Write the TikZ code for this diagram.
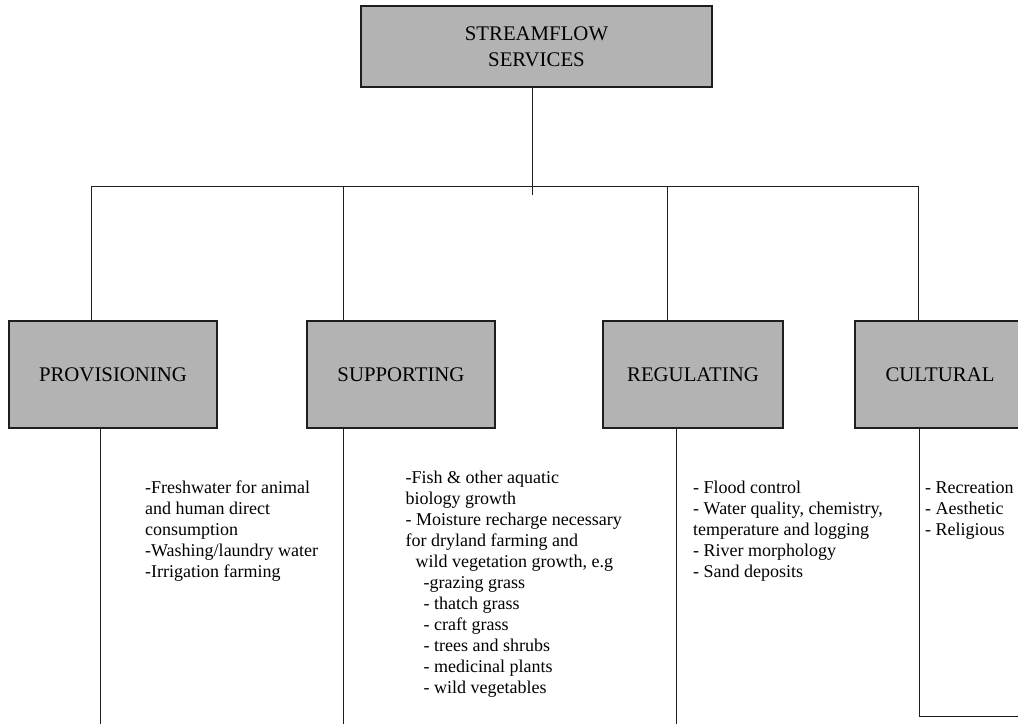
\documentclass[tikz,border=0pt]{standalone}
\usepackage{fontspec}
\setmainfont{Liberation Serif}
\definecolor{boxgray}{RGB}{179,179,179}
\definecolor{inkgray}{RGB}{30,30,30}
\begin{document}
\begin{tikzpicture}[x=1pt,y=-1pt,
  svcbox/.style={draw=inkgray, line width=1.1pt, fill=boxgray, inner sep=0pt,
    align=center, font=\fontsize{20.8}{26}\selectfont},
  link/.style={draw=inkgray, line width=0.9pt},
  itemlist/.style={anchor=north west, inner sep=0pt, align=left,
    font=\fontsize{18}{21}\selectfont}]
\useasboundingbox (0,0) rectangle (1018,724);
\clip (0,0) rectangle (1018,724);

% service boxes
\node[svcbox, minimum width=351pt, minimum height=81pt] (root) at (536.5,46.5) {STREAMFLOW\\SERVICES};
\node[svcbox, minimum width=208pt, minimum height=107pt] (prov) at (113,374.5) {PROVISIONING};
\node[svcbox, minimum width=188pt, minimum height=107pt] (supp) at (401,374.5) {SUPPORTING};
\node[svcbox, minimum width=180pt, minimum height=107pt] (regu) at (693,374.5) {REGULATING};
\node[svcbox, minimum width=170pt, minimum height=107pt] (cult) at (940,374.5) {CULTURAL};

% branching bus
\coordinate (hub) at (532,195);
\coordinate (busL) at (91,186);
\coordinate (busS) at (343,186);
\coordinate (busG) at (667,186);
\coordinate (busR) at (918,186);
\draw[link] (root.south -| hub) -- (hub);
\draw[link] (busL) -- (busR);
\draw[link] (busL) -- (busL |- prov.north);
\draw[link] (busS) -- (busS |- supp.north);
\draw[link] (busG) -- (busG |- regu.north);
\draw[link] (busR) -- (busR |- cult.north);

% stems below the boxes
\coordinate (provEnd) at (100,724);
\coordinate (suppEnd) at (343,724);
\coordinate (reguEnd) at (676,724);
\coordinate (cultCorner) at (919,716);
\coordinate (cultEnd) at (1018,716);
\draw[link] (prov.south -| provEnd) -- (provEnd);
\draw[link] (supp.south -| suppEnd) -- (suppEnd);
\draw[link] (regu.south -| reguEnd) -- (reguEnd);
\draw[link] (cult.south -| cultCorner) -- (cultCorner) -- (cultEnd);

% service lists
\node[itemlist] (provList) at (145,481) {-Freshwater for animal\\and human direct\\consumption\\-Washing/laundry water\\-Irrigation farming};
\node[itemlist] (suppList) at (405.5,471) {-Fish \& other aquatic\\biology growth\\- Moisture recharge necessary\\for dryland farming and\\\hspace*{10pt}wild vegetation growth, e.g\\\hspace*{18pt}-grazing grass\\\hspace*{18pt}- thatch grass\\\hspace*{18pt}- craft grass\\\hspace*{18pt}- trees and shrubs\\\hspace*{18pt}- medicinal plants\\\hspace*{18pt}- wild vegetables};
\node[itemlist] (reguList) at (693,481) {- Flood control\\- Water quality, chemistry,\\temperature and logging\\- River morphology\\- Sand deposits};
\node[itemlist] (cultList) at (925,481) {- Recreation\\- Aesthetic\\- Religious};
\end{tikzpicture}
\end{document}
